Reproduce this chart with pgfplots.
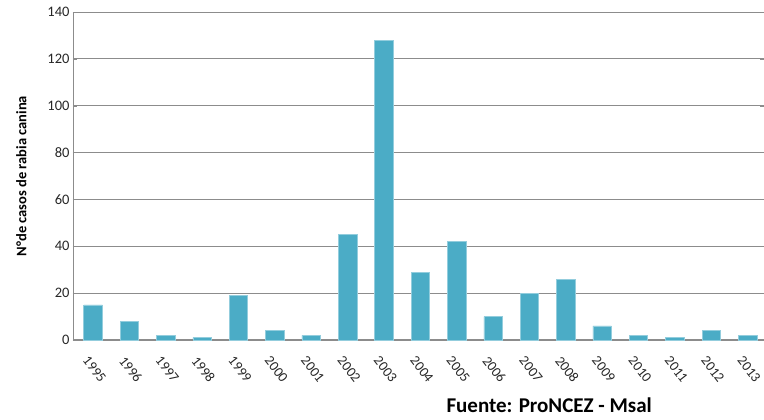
\documentclass[border=0pt]{standalone}
\usepackage{pgfplots}
\pgfplotsset{compat=1.18}
\usepackage{fontspec}
\setmainfont{Carlito}
\definecolor{barc}{HTML}{4BACC6}
\definecolor{gridc}{HTML}{8C8C8C}
\begin{document}
\begin{tikzpicture}[x=1pt,y=1pt]
\path[use as bounding box] (0,0) rectangle (764,420);
\begin{axis}[
  at={(73pt,80pt)}, anchor=south west,
  scale only axis, width=691pt, height=328pt,
  ybar, bar width=18.5pt,
  xmin=-0.55, xmax=18.45, ymin=0, ymax=140,
  ytick={0,20,...,140},
  xtick={0,...,18},
  xticklabels={1995,1996,1997,1998,1999,2000,2001,2002,2003,2004,2005,2006,2007,2008,2009,2010,2011,2012,2013},
  /pgf/number format/assume math mode=true,
  ymajorgrids, grid style={gridc, line width=0.8pt},
  axis line style={draw=none},
  tick style={draw=none},
  ytick style={draw=gridc},
  y tick label style={font=\fontsize{14.5}{14.5}\selectfont, text=black!85},
  x tick label style={font=\fontsize{14}{14}\selectfont, xshift=-3pt, yshift=-6pt, rotate=-52, anchor=north west, text=black!85},
  ylabel={N°de casos de rabia canina},
  ylabel style={font=\fontsize{14.5}{15}\selectfont\bfseries, yshift=14pt},
  clip=false,
]
\draw[gridc, line width=0.9pt] (axis cs:-0.55,0) -- (axis cs:-0.55,140);
\draw[gridc, line width=1pt] (axis cs:-0.55,0) -- (axis cs:18.45,0);
\addplot[fill=barc, draw=barc!60!white, line width=0.6pt] coordinates {
(0,15) (1,8) (2,2) (3,1) (4,19) (5,4) (6,2) (7,45) (8,128) (9,29) (10,42) (11,10) (12,20) (13,26) (14,6) (15,2) (16,1) (17,4) (18,2)};
\end{axis}
\node[anchor=base west, font=\fontsize{21}{21}\selectfont\bfseries] at (443,7) {Fuente: ProNCEZ - Msal};
\end{tikzpicture}
\end{document}
